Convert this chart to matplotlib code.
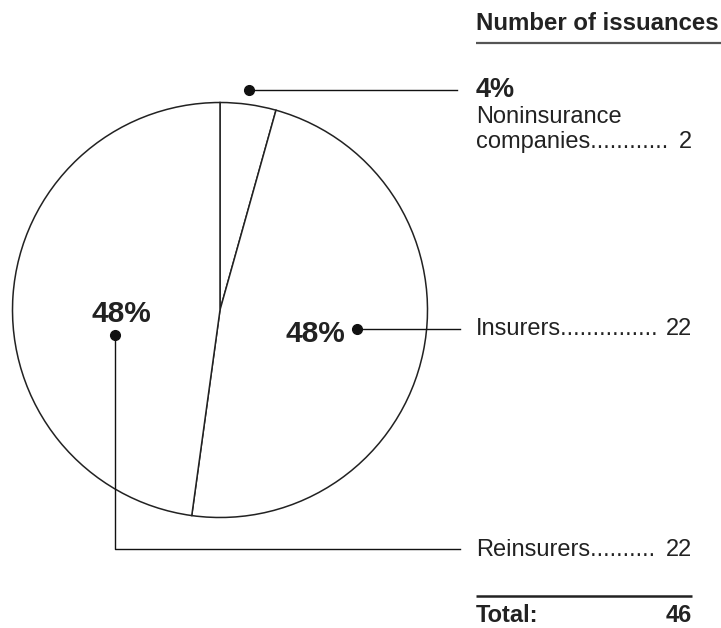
import matplotlib
matplotlib.use("Agg")
import matplotlib.pyplot as plt

# Data
categories = ["Noninsurance companies", "Insurers", "Reinsurers"]
counts = [2, 22, 22]
pct_labels = ["4%", "48%", "48%"]
header = "Number of issuances"
total_label = "Total:"

W, H = 721, 628
plt.rcParams['font.family'] = ['Liberation Sans', 'DejaVu Sans']
fig = plt.figure(figsize=(W / 100, H / 100), dpi=100)
ax = fig.add_axes([0, 0, 1, 1])

def Y(y):
    return H - y

cx, cy, r = 220, 310, 207.5
ax.pie(counts, center=(cx, Y(cy)), radius=r, startangle=90, counterclock=False,
       colors=['white'] * len(counts),
       wedgeprops=dict(edgecolor='#222222', linewidth=1.1))
ax.set_xlim(0, W)
ax.set_ylim(0, H)
ax.set_aspect('auto')
ax.axis('off')

lc = '#111111'
tc = '#222222'
tx = 476
rx = 692
body = 17

# Header
ax.text(tx, Y(30), header, fontsize=17.3, fontweight='bold', ha='left', va='baseline', color=tc)
ax.plot([tx, W], [Y(43), Y(43)], color='#555555', lw=1.6, solid_capstyle='butt')

# Noninsurance annotation
ax.plot([249, 457], [Y(90), Y(90)], color=lc, lw=1.0)
ax.plot([249], [Y(90)], 'o', color=lc, ms=7)
ax.text(tx, Y(97), pct_labels[0], fontsize=19.5, fontweight='bold', va='baseline', color=tc)
ax.text(tx, Y(123), "Noninsurance", fontsize=body, va='baseline', color=tc)
ax.text(tx, Y(148), "companies" + "." * 12, fontsize=body, va='baseline', color=tc)
ax.text(rx, Y(148), str(counts[0]), fontsize=body, va='baseline', ha='right', color=tc)

# Insurers annotation
ax.text(345, Y(342), pct_labels[1], fontsize=21.5, fontweight='bold', ha='right', va='baseline', color=tc)
ax.plot([357, 460], [Y(329), Y(329)], color=lc, lw=1.0)
ax.plot([357], [Y(329)], 'o', color=lc, ms=7)
ax.text(tx, Y(335), categories[1] + "." * 15, fontsize=body, va='baseline', color=tc)
ax.text(rx, Y(335), str(counts[1]), fontsize=body, va='baseline', ha='right', color=tc)

# Reinsurers annotation
ax.text(121, Y(322), pct_labels[2], fontsize=21.5, fontweight='bold', ha='center', va='baseline', color=tc)
ax.plot([115, 115, 460], [Y(335), Y(549), Y(549)], color=lc, lw=1.0)
ax.plot([115], [Y(335)], 'o', color=lc, ms=7)
ax.text(tx, Y(556), categories[2] + "." * 10, fontsize=body, va='baseline', color=tc)
ax.text(rx, Y(556), str(counts[2]), fontsize=body, va='baseline', ha='right', color=tc)

# Total
ax.plot([tx, rx], [Y(596), Y(596)], color=tc, lw=1.8, solid_capstyle='butt')
ax.text(tx, Y(622), total_label, fontsize=17, fontweight='bold', va='baseline', color=tc)
ax.text(rx, Y(622), str(sum(counts)), fontsize=17, fontweight='bold', va='baseline', ha='right', color=tc)

fig.savefig("out.png", dpi=100)
